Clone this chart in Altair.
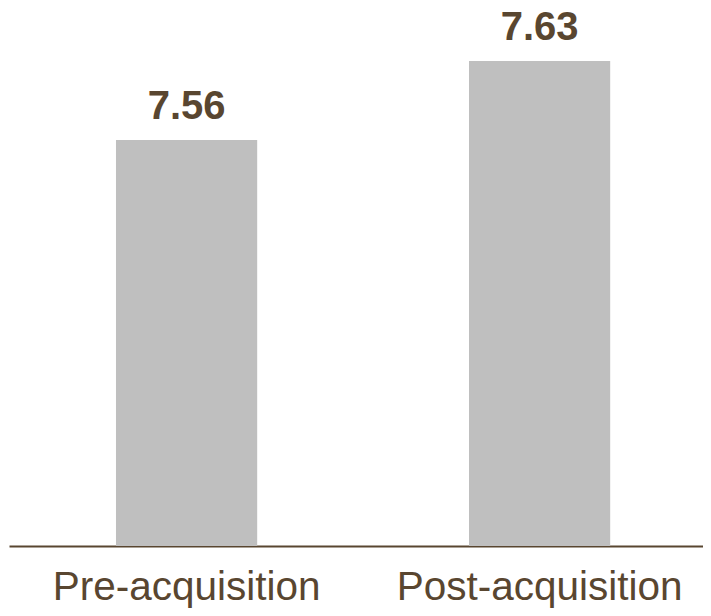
import altair as alt
import pandas as pd

categories = ["Pre-acquisition", "Post-acquisition"]
values = [7.56, 7.63]

df = pd.DataFrame({"period": categories, "value": values})

BROWN = "#594630"
FONT = "Liberation Sans"

x_enc = alt.X(
    "period:N",
    sort=categories,
    title=None,
    scale=alt.Scale(paddingInner=0.6, paddingOuter=0.283, align=0.5355),
    axis=alt.Axis(
        labelAngle=0,
        labelFont=FONT,
        labelFontSize=40.5,
        labelColor=BROWN,
        labelBaseline="alphabetic",
        labelPadding=53,
        labelLimit=1000,
        ticks=False,
        tickSize=0,
        domainColor=BROWN,
        domainWidth=2,
        grid=False,
    ),
)

y_scale = alt.Scale(domain=[7.2, 7.67], zero=False, nice=False)

base = alt.Chart(df)

bars = base.mark_bar(color="#bfbfbf").encode(
    x=x_enc,
    y=alt.Y("value:Q", scale=y_scale, axis=None),
    y2=alt.datum(7.2),
)

labels = base.mark_text(
    baseline="alphabetic",
    align="center",
    dy=-21,
    font=FONT,
    fontSize=40,
    fontWeight="bold",
    color=BROWN,
).encode(
    x=alt.X("period:N", sort=categories),
    y=alt.Y("value:Q", scale=y_scale, axis=None),
    text=alt.Text("value:Q", format=".2f"),
)

chart = (
    alt.layer(bars, labels)
    .properties(
        width=694,
        height=530,
        autosize=alt.AutoSizeParams(type="none"),
        padding={"left": 1, "top": 8, "right": 0, "bottom": 62},
        background="white",
    )
    .configure_view(stroke=None)
)

chart.save("out.html", embed_options={"renderer": "svg", "actions": False})
